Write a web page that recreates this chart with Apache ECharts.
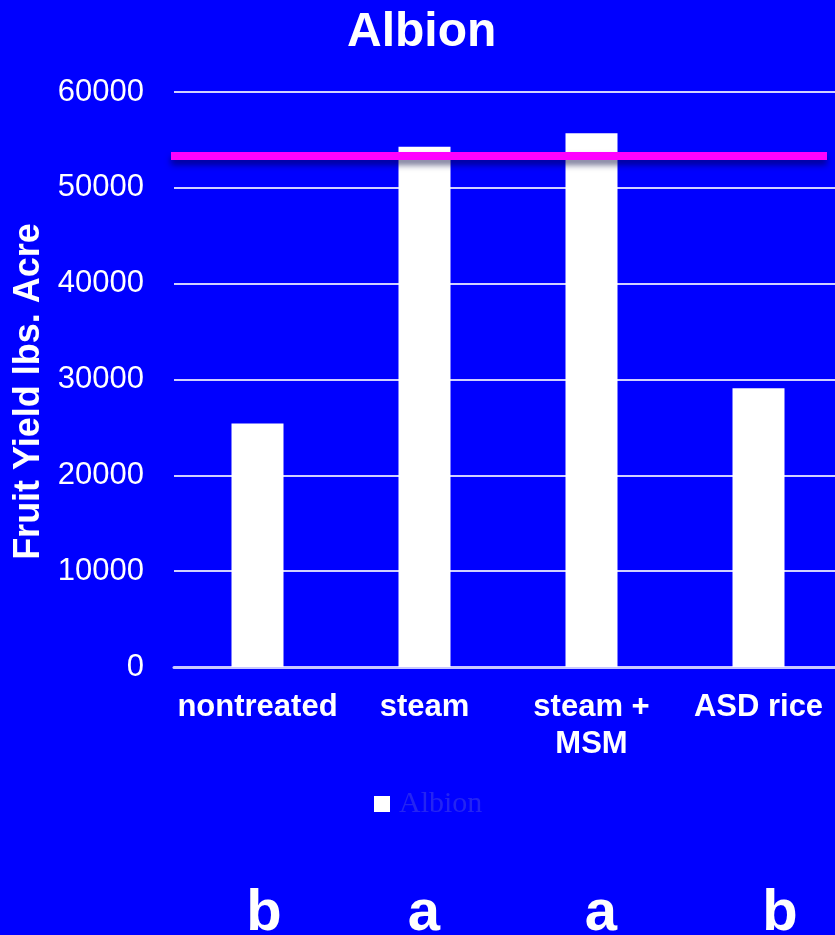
<!DOCTYPE html>
<html>
<head>
<meta charset="utf-8">
<title>Albion</title>
<script src="https://cdn.jsdelivr.net/npm/echarts@6/dist/echarts.min.js"></script>
<style>
  html, body { margin: 0; padding: 0; background: #0000ff; }
  #chart { width: 835px; height: 935px; }
</style>
</head>
<body>
<div id="chart"></div>
<script>
// Fruit yield per treatment, Albion strawberries (lbs per acre)
const categories = ['nontreated', 'steam', 'steam +\nMSM', 'ASD rice'];
const yieldValues = [25400, 54300, 55700, 29100];
const referenceYield = 53300;          // magenta reference line
const sigLetters = ['b', 'a', 'a', 'b']; // mean separation letters
const yTicks = { min: 0, max: 60000, interval: 10000 };

// layout of the mean-separation letters (pixel x of each letter)
const letterX = [264, 424, 601, 780];

const FONT = "'Liberation Sans', Arial, sans-serif";
const chart = echarts.init(document.getElementById('chart'));

chart.setOption({
  backgroundColor: '#0000ff',
  animation: false,
  title: {
    text: 'Albion',
    left: 347,
    top: 9,
    padding: 0,
    textStyle: { color: '#ffffff', fontFamily: FONT, fontWeight: 'bold', fontSize: 48 }
  },
  legend: {
    data: ['Albion'],
    top: 789,
    left: 374,
    padding: 0,
    icon: 'rect',
    itemWidth: 16,
    itemHeight: 16,
    textStyle: {
      color: '#2424f2',
      fontFamily: "'Liberation Serif', 'Times New Roman', serif",
      fontSize: 30,
      lineHeight: 30,
      padding: [0, 0, 0, 4]
    }
  },
  grid: { left: 174, top: 92, width: 668, height: 575, containLabel: false, outerBoundsMode: 'none' },
  xAxis: {
    type: 'category',
    data: categories,
    axisLine: { show: true, lineStyle: { color: '#c8c8ff', width: 3 } },
    axisTick: { show: false },
    axisLabel: {
      color: '#ffffff',
      fontFamily: FONT,
      fontWeight: 'bold',
      fontSize: 31,
      lineHeight: 37,
      margin: 22,
      interval: 0
    }
  },
  yAxis: {
    type: 'value',
    min: yTicks.min,
    max: yTicks.max,
    interval: yTicks.interval,
    name: 'Fruit Yield lbs. Acre',
    nameLocation: 'middle',
    nameRotate: 90,
    nameGap: 122,
    nameTextStyle: {
      color: '#ffffff', fontFamily: FONT, fontWeight: 'bold', fontSize: 36,
      padding: [0, 24, 0, 0]
    },
    axisLine: { show: false },
    axisTick: { show: false },
    axisLabel: {
      color: '#ffffff', fontFamily: FONT, fontSize: 31, margin: 30,
      formatter: v => String(v)
    },
    splitLine: { lineStyle: { color: '#d0d0ff', width: 2 } }
  },
  series: [{
    name: 'Albion',
    type: 'bar',
    data: yieldValues,
    barWidth: 52,
    itemStyle: { color: '#ffffff' },
    markLine: {
      silent: true,
      symbol: ['none', 'none'],
      label: { show: false },
      lineStyle: {
        color: '#ff00ff',
        width: 8,
        type: 'solid',
        shadowColor: 'rgba(0, 0, 60, 0.55)',
        shadowBlur: 6,
        shadowOffsetY: 5
      },
      data: [[{ yAxis: referenceYield, x: 171 }, { yAxis: referenceYield, x: 827 }]]
    }
  }],
  graphic: sigLetters.map((t, i) => ({
    type: 'text',
    x: letterX[i],
    y: 914,
    style: {
      text: t,
      fill: '#ffffff',
      font: "bold 58px " + FONT,
      textAlign: 'center',
      textVerticalAlign: 'middle'
    }
  }))
});
</script>
</body>
</html>
